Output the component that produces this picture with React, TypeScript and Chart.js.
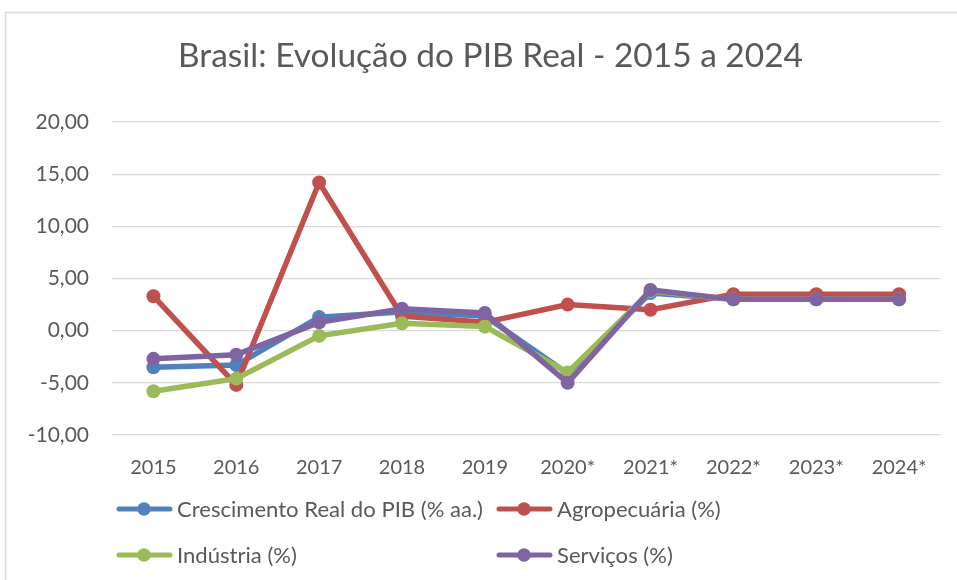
import React, { useEffect, useRef } from "react";
import { Chart, registerables } from "chart.js";

Chart.register(...registerables);

const TITLE = "Brasil: Evolução do PIB Real - 2015 a 2024";
const CATEGORIES = ["2015", "2016", "2017", "2018", "2019", "2020*", "2021*", "2022*", "2023*", "2024*"];
const PIB = [-3.5, -3.3, 1.3, 1.8, 1.4, -4.1, 3.6, 3.0, 3.0, 3.0];
const AGRO = [3.3, -5.2, 14.2, 1.4, 0.8, 2.5, 2.0, 3.5, 3.5, 3.5];
const INDUSTRIA = [-5.8, -4.6, -0.5, 0.7, 0.4, -4.0, 3.8, 3.0, 3.0, 3.0];
const SERVICOS = [-2.7, -2.3, 0.8, 2.1, 1.7, -5.0, 3.9, 3.0, 3.0, 3.0];
const SERIES_NAMES = ["Crescimento Real do PIB (% aa.)", "Agropecuária (%)", "Indústria (%)", "Serviços (%)"];
const COLORS = ["#4F81BD", "#C0504D", "#9BBB59", "#8064A2"];

const FONT = "Lato, 'Open Sans', sans-serif";
const TEXT_COLOR = "#595959";

function drawScaled(ctx: any, text: string, x: number, y: number, sx: number) {
  ctx.save();
  ctx.translate(x, y);
  ctx.scale(sx, 1);
  ctx.fillText(text, 0, 0);
  ctx.restore();
}

const decorPlugin = {
  id: "decor",
  beforeDraw(chart: any) {
    const ctx = chart.ctx;
    ctx.save();
    ctx.fillStyle = "#ffffff";
    ctx.fillRect(0, 0, chart.width, chart.height);
    ctx.strokeStyle = "#d9d9d9";
    ctx.lineWidth = 1.5;
    ctx.beginPath();
    ctx.moveTo(5.5, chart.height);
    ctx.lineTo(5.5, 12.5);
    ctx.lineTo(chart.width, 12.5);
    ctx.stroke();
    ctx.restore();
  },
  afterDraw(chart: any) {
    const ctx = chart.ctx;
    ctx.save();
    // title
    ctx.fillStyle = TEXT_COLOR;
    ctx.font = `32px ${FONT}`;
    ctx.textAlign = "left";
    ctx.textBaseline = "alphabetic";
    const tw = ctx.measureText(TITLE).width;
    drawScaled(ctx, TITLE, 178, 67, 625 / tw);
    // legend
    const positions = [
      [117, 509],
      [497, 509],
      [117, 555],
      [497, 555],
    ];
    ctx.font = `22px ${FONT}`;
    ctx.textBaseline = "middle";
    const lw = ctx.measureText(SERIES_NAMES[0]).width;
    const lsx = 306 / lw;
    chart.data.datasets.forEach((ds: any, i: number) => {
      const [x, y] = positions[i];
      ctx.strokeStyle = ds.borderColor;
      ctx.lineWidth = 5;
      ctx.lineCap = "round";
      ctx.beginPath();
      ctx.moveTo(x + 2, y);
      ctx.lineTo(x + 53, y);
      ctx.stroke();
      ctx.fillStyle = ds.borderColor;
      ctx.beginPath();
      ctx.arc(x + 27, y, 6.7, 0, Math.PI * 2);
      ctx.fill();
      ctx.fillStyle = TEXT_COLOR;
      drawScaled(ctx, ds.label, x + 60, y + 1, lsx);
    });
    ctx.restore();
  },
};

export default function App() {
  const ref = useRef<HTMLCanvasElement | null>(null);
  useEffect(() => {
    if (!ref.current) return;
    const seriesData = [PIB, AGRO, INDUSTRIA, SERVICOS];
    const chart = new Chart(ref.current, {
      type: "line",
      data: {
        labels: CATEGORIES,
        datasets: seriesData.map((d, i) => ({
          label: SERIES_NAMES[i],
          data: d,
          borderColor: COLORS[i],
          backgroundColor: COLORS[i],
          pointBackgroundColor: COLORS[i],
          pointBorderColor: COLORS[i],
          borderWidth: 5.5,
          pointRadius: 7,
          pointBorderWidth: 0,
          tension: 0,
          order: 4 - i,
        })),
      },
      options: {
        animation: false,
        responsive: false,
        maintainAspectRatio: false,
        layout: { padding: { top: 122, left: 0, right: 16.5, bottom: 0 } },
        plugins: {
          legend: { display: false },
          title: { display: false },
          tooltip: { enabled: false },
        },
        scales: {
          x: {
            offset: true,
            grid: { display: false, drawTicks: false },
            border: { display: false },
            ticks: {
              color: TEXT_COLOR,
              font: { family: FONT, size: 20 },
              padding: 21,
              maxRotation: 0,
              autoSkip: false,
            },
            afterFit: (s: any) => {
              s.height = 145;
            },
          },
          y: {
            min: -10,
            max: 20,
            grid: { color: "#d9d9d9", lineWidth: 1.3, drawTicks: false },
            border: { display: false },
            ticks: {
              stepSize: 5,
              color: TEXT_COLOR,
              font: { family: FONT, size: 21 },
              padding: 23,
              callback: (v: any) => Number(v).toFixed(2).replace(".", ","),
            },
            afterFit: (s: any) => {
              s.width = 112;
            },
          },
        },
      },
      plugins: [decorPlugin],
    });
    return () => chart.destroy();
  }, []);
  return (
    <div style={{ position: "fixed", left: 0, top: 0, width: 957, height: 580, background: "#fff" }}>
      <canvas ref={ref} width={957} height={580} style={{ width: 957, height: 580, display: "block" }} />
    </div>
  );
}
